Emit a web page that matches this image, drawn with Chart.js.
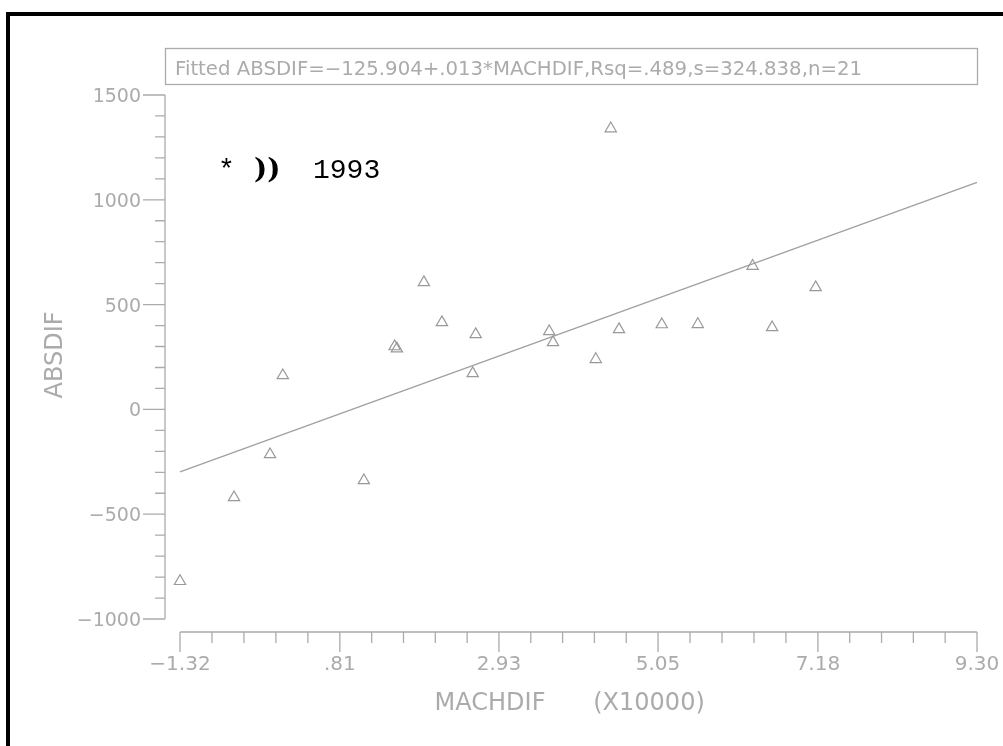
<!DOCTYPE html>
<html>
<head>
<meta charset="utf-8">
<script src="https://cdn.jsdelivr.net/npm/chart.js@4.4.0/dist/chart.umd.min.js"></script>
<style>
  html, body { margin: 0; padding: 0; background: #fff; }
  #plot { display: block; }
</style>
</head>
<body>
<canvas id="plot" width="1003" height="746"></canvas>
<script>
// MACHDIF (x10000) and ABSDIF for the 21 cases
const machdif = [-1.32, -0.60, -0.12, 0.05, 1.13, 1.54, 1.57, 1.93, 2.17, 2.58, 2.62,
                 3.60, 3.65, 4.22, 4.42, 4.53, 5.10, 5.58, 6.31, 6.57, 7.15];
const absdif  = [-820, -420, -215, 162, -339, 300, 290, 606, 415, 172, 358,
                 372, 320, 239, 1340, 382, 405, 406, 684, 391, 582];

// fitted line ends
const fitX = [-1.32, 9.30];
const fitY = [-298, 1083];

const xTickValues = [-1.32, 0.81, 2.93, 5.05, 7.18, 9.30];
const xTickLabels = ['\u22121.32', '.81', '2.93', '5.05', '7.18', '9.30'];
const yTickValues = [-1000, -500, 0, 500, 1000, 1500];
const yTickLabels = ['\u22121000', '\u2212500', '0', '500', '1000', '1500'];

const titleText = 'Fitted ABSDIF=\u2212125.904+.013*MACHDIF,Rsq=.489,s=324.838,n=21';
const xTitle = ['MACHDIF', '(X10000)'];
const yTitle = 'ABSDIF';

const GRAY = '#ababab';
const FONT = '"DejaVu Sans", "Liberation Sans", sans-serif';
const MONO = '"Liberation Mono", "DejaVu Sans Mono", monospace';

// squeeze or stretch a string so it spans the given width
function fitText(ctx, text, x, y, width) {
    const w = ctx.measureText(text).width;
    ctx.save();
    ctx.translate(x, y);
    ctx.scale(width / w, 1);
    ctx.fillText(text, 0, 0);
    ctx.restore();
}

const axesPlugin = {
    id: 'oldAxes',
    beforeDatasetsDraw(chart) {
        const ctx = chart.ctx;
        const area = chart.chartArea;
        const xs = chart.scales.x;
        const ys = chart.scales.y;
        const axisX = area.left - 15;
        const axisY = area.bottom + 13;

        ctx.save();
        // page frame
        ctx.fillStyle = '#000';
        ctx.fillRect(6, 12, 4, chart.height - 12);
        ctx.fillRect(6, 12, chart.width - 6, 4);

        ctx.strokeStyle = GRAY;
        ctx.fillStyle = GRAY;
        ctx.lineWidth = 1.3;

        // title box
        ctx.strokeRect(axisX + 0.5, 48.5, area.right - axisX, 36);
        ctx.font = '19px ' + FONT;
        ctx.textAlign = 'left';
        ctx.textBaseline = 'alphabetic';
        fitText(ctx, titleText, axisX + 10, 75, 687);

        // y axis
        ctx.beginPath();
        ctx.moveTo(axisX, ys.getPixelForValue(yTickValues[0]));
        ctx.lineTo(axisX, ys.getPixelForValue(yTickValues[yTickValues.length - 1]));
        for (let i = 0; i < yTickValues.length; i++) {
            const py = ys.getPixelForValue(yTickValues[i]);
            ctx.moveTo(axisX - 22, py);
            ctx.lineTo(axisX, py);
            if (i < yTickValues.length - 1) {
                const step = (yTickValues[i + 1] - yTickValues[i]) / 5;
                for (let k = 1; k < 5; k++) {
                    const my = ys.getPixelForValue(yTickValues[i] + step * k);
                    ctx.moveTo(axisX - 10, my);
                    ctx.lineTo(axisX, my);
                }
            }
        }
        // x axis
        ctx.moveTo(xs.getPixelForValue(xTickValues[0]), axisY);
        ctx.lineTo(xs.getPixelForValue(xTickValues[xTickValues.length - 1]), axisY);
        for (let i = 0; i < xTickValues.length; i++) {
            const px = xs.getPixelForValue(xTickValues[i]);
            ctx.moveTo(px, axisY);
            ctx.lineTo(px, axisY + 20);
            if (i < xTickValues.length - 1) {
                const step = (xTickValues[i + 1] - xTickValues[i]) / 5;
                for (let k = 1; k < 5; k++) {
                    const mx = xs.getPixelForValue(xTickValues[i] + step * k);
                    ctx.moveTo(mx, axisY);
                    ctx.lineTo(mx, axisY + 11);
                }
            }
        }
        ctx.stroke();

        // tick labels
        ctx.font = '19px ' + FONT;
        ctx.textAlign = 'right';
        yTickValues.forEach((v, i) => {
            ctx.fillText(yTickLabels[i], axisX - 24, ys.getPixelForValue(v) + 7);
        });
        ctx.font = '20px ' + FONT;
        ctx.textAlign = 'center';
        xTickValues.forEach((v, i) => {
            ctx.fillText(xTickLabels[i], xs.getPixelForValue(v), axisY + 38);
        });

        // axis titles
        ctx.font = '24px ' + FONT;
        ctx.fillText(xTitle[0], 490, 710);
        ctx.fillText(xTitle[1], 649, 710);
        ctx.save();
        ctx.translate(62, 355);
        ctx.rotate(-Math.PI / 2);
        ctx.fillText(yTitle, 0, 0);
        ctx.restore();

        // note in the corner
        ctx.fillStyle = '#000';
        ctx.textAlign = 'left';
        ctx.font = '28px ' + MONO;
        ctx.fillText('*', 218, 178);
        ctx.fillText('1993', 313, 178);
        ctx.font = 'bold 28px "DejaVu Serif", "Liberation Serif", serif';
        ctx.fillText('))', 254, 178);
        ctx.restore();
    }
};

const points = machdif.map((x, i) => ({ x: x, y: absdif[i] }));
const fitLine = fitX.map((x, i) => ({ x: x, y: fitY[i] }));

new Chart(document.getElementById('plot').getContext('2d'), {
    type: 'scatter',
    data: {
        datasets: [
            {
                label: 'ABSDIF',
                data: points,
                pointStyle: 'triangle',
                pointRadius: 6.5,
                pointBorderWidth: 1.2,
                pointBorderColor: '#999999',
                pointBackgroundColor: 'rgba(0,0,0,0)',
                clip: false
            },
            {
                label: 'Fitted',
                data: fitLine,
                showLine: true,
                borderColor: '#a0a0a0',
                borderWidth: 1.3,
                pointRadius: 0,
                clip: false
            }
        ]
    },
    options: {
        responsive: false,
        animation: false,
        devicePixelRatio: 1,
        layout: { padding: { left: 180, right: 26, top: 95, bottom: 127 } },
        plugins: { legend: { display: false }, tooltip: { enabled: false } },
        scales: {
            x: { type: 'linear', min: -1.32, max: 9.30, display: false },
            y: { type: 'linear', min: -1000, max: 1500, display: false }
        }
    },
    plugins: [axesPlugin]
});
</script>
</body>
</html>
